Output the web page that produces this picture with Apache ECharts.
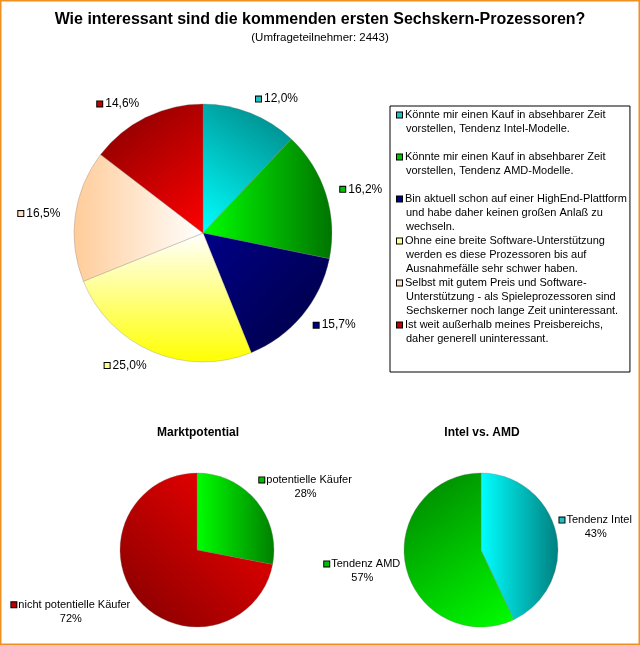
<!DOCTYPE html>
<html><head><meta charset="utf-8">
<script src="https://cdn.jsdelivr.net/npm/echarts@6/dist/echarts.min.js"></script>
<style>html,body{margin:0;padding:0;background:#fff}#c{width:640px;height:645px}</style>
</head><body><div id="c"></div>
<script>
// ---- data ----
const titleText = 'Wie interessant sind die kommenden ersten Sechskern-Prozessoren?';
const subtitleText = '(Umfrageteilnehmer: 2443)';
const categories = [
  'Könnte mir einen Kauf in absehbarer Zeit\nvorstellen, Tendenz Intel-Modelle.',
  'Könnte mir einen Kauf in absehbarer Zeit\nvorstellen, Tendenz AMD-Modelle.',
  'Bin aktuell schon auf einer HighEnd-Plattform\nund habe daher keinen großen Anlaß zu\nwechseln.',
  'Ohne eine breite Software-Unterstützung\nwerden es diese Prozessoren bis auf\nAusnahmefälle sehr schwer haben.',
  'Selbst mit gutem Preis und Software-\nUnterstützung - als Spieleprozessoren sind\nSechskerner noch lange Zeit uninteressant.',
  'Ist weit außerhalb meines Preisbereichs,\ndaher generell uninteressant.'
];
const values = [12.0, 16.2, 15.7, 25.0, 16.5, 14.6];
const marketTitle = 'Marktpotential';
const marketCategories = ['potentielle Käufer', 'nicht potentielle Käufer'];
const marketValues = [28, 72];
const vendorTitle = 'Intel vs. AMD';
const vendorCategories = ['Tendenz Intel', 'Tendenz AMD'];
const vendorValues = [43, 57];

// ---- styles ----
const FONT = '"Liberation Sans", Arial, sans-serif';
const lg = (x, y, x2, y2, c1, c2) => ({type: 'linear', x, y, x2, y2,
  colorStops: [{offset: 0, color: c1}, {offset: 1, color: c2}]});
const mainFills = [
  lg(0, 1, 1, 0, '#00ffff', '#008080'),
  lg(0, 0, 1, 0, '#00ff00', '#007400'),
  lg(0, 0, 1, 1, '#000088', '#000040'),
  lg(0, 0, 0, 1, '#ffffff', '#ffff00'),
  lg(0, 0, 1, 0, '#ffcc99', '#ffffff'),
  lg(0, 0, 1, 1, '#800000', '#ff0000')
];
const mainKeys = ['#20c0c0', '#00c000', '#000080', '#ffff90', '#ffe0c0', '#c00000'];
const marketFills = [lg(0, 0, 1, 0, '#00ff00', '#008000'), lg(0, 1, 1, 0, '#800000', '#ff0000')];
const marketKeys = ['#00c000', '#c00000'];
const vendorFills = [lg(0, 0, 1, 0, '#00ffff', '#008080'), lg(0, 0, 1, 1, '#008000', '#00ff00')];
const vendorKeys = ['#20c0c0', '#00c000'];
const marketLines = [{length: 22, length2: -14}, {length: 20, length2: -8}];
const vendorLines = [{length: 28, length2: -24}, {length: 19, length2: -13}];

function keyStyles(prefix, keys) {
  const r = {};
  keys.forEach((c, i) => {
    r[prefix + i] = {width: 5, height: 5, backgroundColor: c, borderColor: '#000', borderWidth: 1};
  });
  return r;
}

const chart = echarts.init(document.getElementById('c'), null, {renderer: 'canvas'});

const legendRich = Object.assign(keyStyles('k', mainKeys), {
  t: {fontFamily: FONT, fontSize: 11, lineHeight: 14, color: '#000', padding: [0, 0, 0, 3]},
  s: {width: 6, height: 5}
});

function smallPie(title, cats, vals, fills, keys, lines, center, prefix) {
  return {
    type: 'pie', name: title, center: center, radius: 77, startAngle: 90, clockwise: true,
    avoidLabelOverlap: false, silent: true, emphasis: {disabled: true},
    itemStyle: {borderColor: 'rgba(120,120,120,0.6)', borderWidth: 0.5},
    labelLine: {show: false},
    label: {
      show: true, position: 'outside', distanceToLabelLine: 0, color: '#000',
      formatter: p => `{${prefix}${p.dataIndex}|}{t|${p.name}}\n{v|${p.value}%}`,
      rich: Object.assign(keyStyles(prefix, keys), {
        t: {fontFamily: FONT, fontSize: 11, lineHeight: 14, color: '#000', padding: [0, 0, 0, 2]},
        v: {fontFamily: FONT, fontSize: 11, lineHeight: 14, color: '#000', align: 'center'}
      })
    },
    data: cats.map((n, i) => ({name: n, value: vals[i], itemStyle: {color: fills[i]},
      labelLine: {show: false, length: lines[i].length, length2: lines[i].length2}}))
  };
}

chart.setOption({
  animation: false,
  backgroundColor: '#fff',
  title: {
    text: titleText, subtext: subtitleText, left: 'center', top: 7, itemGap: 4,
    textStyle: {fontFamily: FONT, fontSize: 16, fontWeight: 'bold', color: '#000'},
    subtextStyle: {fontFamily: FONT, fontSize: 11.5, color: '#000'}
  },
  legend: {
    orient: 'vertical', left: 390, top: 106, itemGap: 0, itemWidth: 0, itemHeight: 14,
    icon: 'none', selectedMode: false, borderColor: '#000', borderWidth: 1,
    padding: [2, 3, 26, 2],
    data: categories,
    formatter: name => {
      const i = categories.indexOf(name);
      const ls = name.split('\n');
      let out = ls.map((l, j) => (j === 0 ? `{k${i}|}` : '{s|}') + `{t|${l}}`).join('\n');
      if (ls.length < 3 && i < categories.length - 1) out += '\n{t| }';
      return out;
    },
    textStyle: {fontFamily: FONT, fontSize: 11, lineHeight: 14, color: '#000', rich: legendRich}
  },
  graphic: [
    {type: 'rect', silent: true, shape: {x: 0.75, y: 0.75, width: 638.5, height: 643.5},
      style: {fill: null, stroke: '#f0901e', lineWidth: 1.5}},
    {type: 'text', silent: true, style: {x: 198, y: 433, text: marketTitle, align: 'center', verticalAlign: 'middle',
      fontFamily: FONT, fontSize: 12, fontWeight: 'bold', fill: '#000'}},
    {type: 'text', silent: true, style: {x: 482, y: 433, text: vendorTitle, align: 'center', verticalAlign: 'middle',
      fontFamily: FONT, fontSize: 12, fontWeight: 'bold', fill: '#000'}}
  ],
  series: [
    {
      type: 'pie', name: 'main', center: [203, 233], radius: 129, startAngle: 90, clockwise: true,
      avoidLabelOverlap: false, silent: true, emphasis: {disabled: true},
      itemStyle: {borderColor: 'rgba(120,120,120,0.6)', borderWidth: 0.5},
      label: {
        show: true, position: 'outside', distanceToLabelLine: 0, color: '#000',
        formatter: p => `{m${p.dataIndex}|}{t|${p.value.toFixed(1).replace('.', ',')}%}`,
        rich: Object.assign(keyStyles('m', mainKeys), {
          t: {fontFamily: FONT, fontSize: 12, color: '#000', padding: [0, 0, 0, 3]}
        })
      },
      labelLine: {show: false, length: 15, length2: 0},
      data: categories.map((n, i) => ({name: n, value: values[i], itemStyle: {color: mainFills[i]}}))
    },
    smallPie(marketTitle, marketCategories, marketValues, marketFills, marketKeys, marketLines, [197, 550], 'a'),
    smallPie(vendorTitle, vendorCategories, vendorValues, vendorFills, vendorKeys, vendorLines, [481, 550], 'b')
  ]
});
</script></body></html>
